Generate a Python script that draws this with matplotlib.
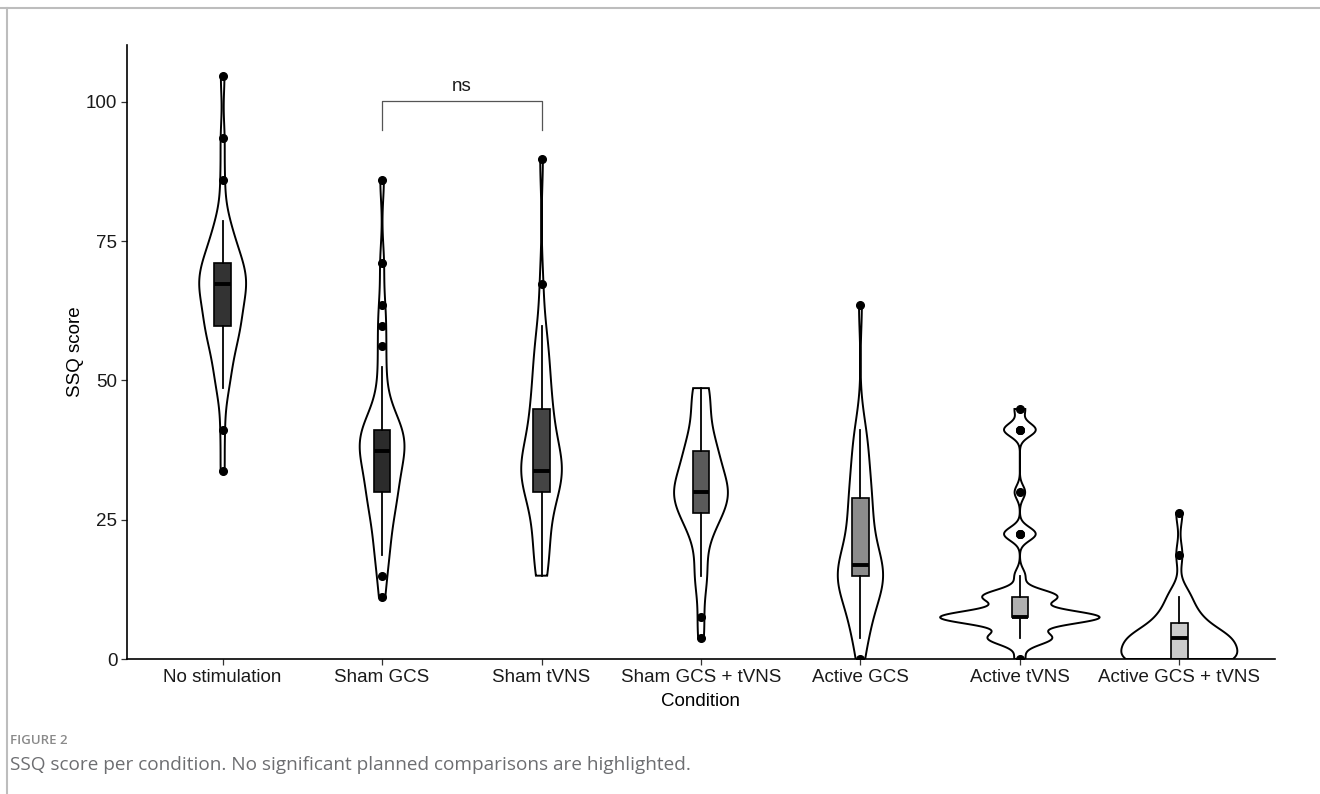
import numpy as np
import matplotlib
matplotlib.use("Agg")
import matplotlib.pyplot as plt
from matplotlib.lines import Line2D

# conditions on the x axis
conditions = ["No stimulation", "Sham GCS", "Sham tVNS", "Sham GCS + tVNS",
              "Active GCS", "Active tVNS", "Active GCS + tVNS"]

# possible SSQ total scores (raw sum x 3.74)
ssq_levels = [0.00, 3.74, 7.48, 11.22, 14.96, 18.70, 22.44, 26.18, 29.92, 33.66,
              37.40, 41.14, 44.88, 48.62, 52.36, 56.10, 59.84, 63.58, 67.32, 71.06,
              74.80, 78.54, 82.28, 86.02, 89.76, 93.50, 97.24, 100.98, 104.72]

# number of participants at each score level, per condition (estimated)
no_stim = [0, 0, 0, 0, 0, 0, 0, 0, 0, 1, 0, 1, 0, 2, 2, 3, 5, 4, 7, 5, 3, 2, 0, 1, 0, 1, 0, 0, 1]
sham_gcs = [0, 0, 0, 1, 1, 2, 2, 3, 4, 4, 6, 6, 2, 1, 1, 1, 1, 1, 0, 1, 0, 0, 0, 1, 0, 0, 0, 0, 0]
sham_tvns = [0, 0, 0, 0, 2, 2, 2, 2, 3, 9, 3, 3, 3, 2, 2, 2, 1, 0, 1, 0, 0, 0, 0, 0, 1, 0, 0, 0, 0]
sham_both = [0, 1, 1, 0, 3, 0, 3, 5, 9, 4, 5, 2, 2, 3, 0, 0, 0, 0, 0, 0, 0, 0, 0, 0, 0, 0, 0, 0, 0]
active_gcs = [1, 2, 3, 3, 10, 3, 3, 3, 3, 2, 2, 2, 0, 0, 0, 0, 0, 1, 0, 0, 0, 0, 0, 0, 0, 0, 0, 0, 0]
active_tvns = [1, 6, 15, 7, 1, 0, 3, 0, 1, 0, 0, 3, 1, 0, 0, 0, 0, 0, 0, 0, 0, 0, 0, 0, 0, 0, 0, 0, 0]
active_both = [15, 13, 5, 3, 0, 1, 0, 1, 0, 0, 0, 0, 0, 0, 0, 0, 0, 0, 0, 0, 0, 0, 0, 0, 0, 0, 0, 0, 0]

box_colors = ["#333333", "#2b2b2b", "#444444", "#5a5a5a", "#8c8c8c", "#b0b0b0", "#cccccc"]


def bw_nrd0(x):
    # same rule as R's bw.nrd0
    q75, q25 = np.percentile(x, [75, 25])
    lo = min(np.std(x, ddof=1), (q75 - q25) / 1.34)
    if lo == 0:
        lo = np.std(x, ddof=1)
    return 0.9 * lo * len(x) ** -0.2


def trimmed_density(x, npts=512):
    h = bw_nrd0(x)
    grid = np.linspace(x.min(), x.max(), npts)
    z = (grid[:, None] - x[None, :]) / h
    d = np.exp(-0.5 * z ** 2).sum(axis=1) / (len(x) * h * np.sqrt(2 * np.pi))
    return grid, d


all_counts = [no_stim, sham_gcs, sham_tvns, sham_both, active_gcs, active_tvns, active_both]
samples = [np.repeat(ssq_levels, c) for c in all_counts]
positions = np.arange(1, len(conditions) + 1)

plt.rcParams['font.family'] = ['Liberation Sans', 'DejaVu Sans']

fig = plt.figure(figsize=(13.2, 7.94), dpi=100)
ax = fig.add_axes([0.0962, 0.170, 0.8697, 0.7733])

# violins, area scaled like ggplot
dens = [trimmed_density(s) for s in samples]
dmax = max(d.max() for _, d in dens)
for pos, (grid, d) in zip(positions, dens):
    w = d / dmax * 0.5
    xs = np.concatenate([pos - w, (pos + w)[::-1]])
    ys = np.concatenate([grid, grid[::-1]])
    ax.fill(xs, ys, facecolor="white", edgecolor="black", lw=1.4, zorder=1)

bp = ax.boxplot(samples, positions=positions, widths=0.105, whis=1.001,
                patch_artist=True, showcaps=False, manage_ticks=False,
                medianprops=dict(color="black", lw=2.8),
                boxprops=dict(edgecolor="black", lw=1.2),
                whiskerprops=dict(color="black", lw=1.3),
                flierprops=dict(marker="o", markerfacecolor="black",
                                markeredgecolor="black", markersize=5.5),
                zorder=2)
for patch, c in zip(bp['boxes'], box_colors):
    patch.set_facecolor(c)

# planned comparison bracket
ax.plot([2, 2, 3, 3], [95, 100.2, 100.2, 95], color="#555555", lw=0.9, zorder=3)
ax.text(2.5, 101.2, "ns", ha="center", va="bottom", fontsize=13.5, color="#1a1a1a")

ax.set_xlim(0.4, 7.6)
ax.set_ylim(0, 110.2)
ax.set_xticks(positions)
ax.set_xticklabels(conditions, fontsize=13.5, color="#1a1a1a")
ax.set_yticks([0, 25, 50, 75, 100])
ax.set_yticklabels(["0", "25", "50", "75", "100"], fontsize=13.5, color="#1a1a1a")
ax.tick_params(axis="both", length=4, width=0.9, color="#333333", pad=3)
ax.set_xlabel("Condition", fontsize=13.5, labelpad=5)
ax.set_ylabel("SSQ score", fontsize=13.5, labelpad=1)
for s in ["top", "right"]:
    ax.spines[s].set_visible(False)
for s in ["left", "bottom"]:
    ax.spines[s].set_linewidth(1.2)
    ax.spines[s].set_color("black")

# page frame and caption
fig.add_artist(Line2D([0, 1], [1 - 8 / 794, 1 - 8 / 794], color="#bdbdbd", lw=1.5))
fig.add_artist(Line2D([7 / 1320, 7 / 1320], [0, 1 - 8 / 794], color="#bdbdbd", lw=1.5))
fig.text(10 / 1320, 1 - 740 / 794, "FIGURE 2", fontsize=9.5, color="#8a8a8a",
         family=["Open Sans", "DejaVu Sans"], va="center", weight="semibold")
fig.text(10 / 1320, 1 - 765 / 794,
         "SSQ score per condition. No significant planned comparisons are highlighted.",
         fontsize=13.7, color="#6d6e71", family=["Open Sans", "DejaVu Sans"], va="center")

fig.savefig("out.png", dpi=100)
